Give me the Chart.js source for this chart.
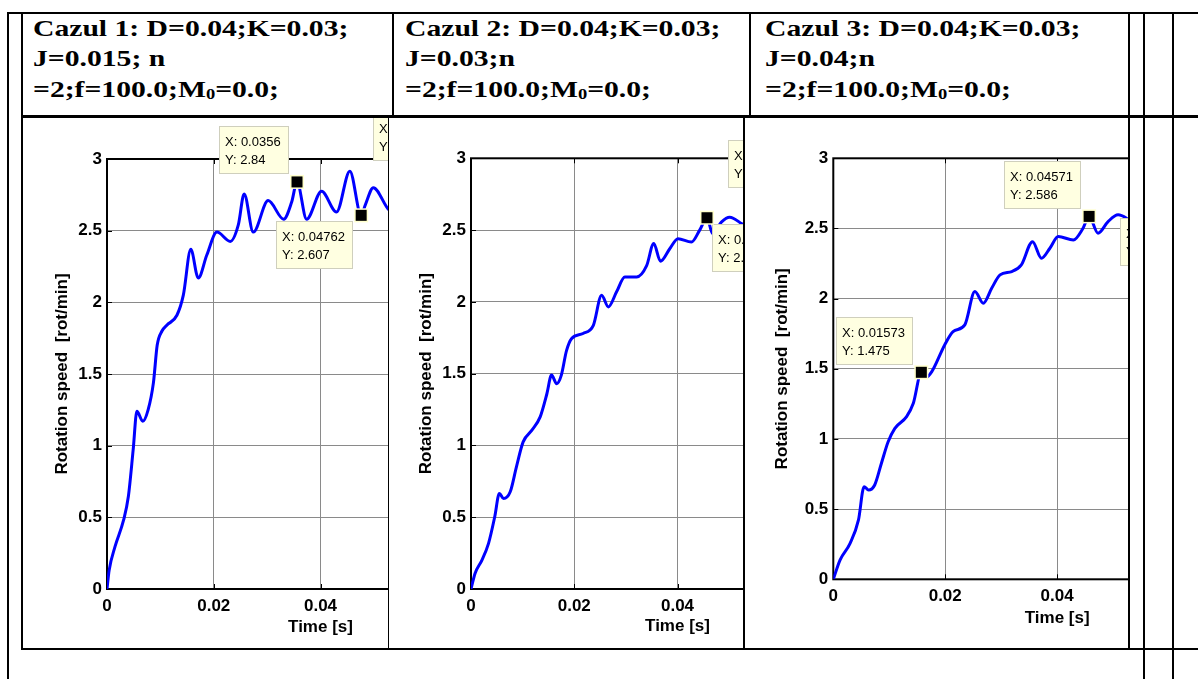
<!DOCTYPE html>
<html lang="ro">
<head>
<meta charset="UTF-8">
<title>Rotation speed - Cazul 1, 2, 3</title>
<script src="https://cdn.jsdelivr.net/npm/chart.js@4.4.0/dist/chart.umd.min.js"></script>
<style>
    html, body { margin: 0; padding: 0; background: #fff; }
    body { width: 1198px; height: 679px; position: relative; overflow: hidden; }
    .rule { position: absolute; background: #000; }
    .head {
        position: absolute; top: 12.6px; color: #000; white-space: nowrap;
        font: bold 24px/30.67px "Liberation Serif", "Times New Roman", serif;
        transform: scaleX(1.235); transform-origin: 0 0;
    }
    .head sub { font-size: 15px; line-height: 0; vertical-align: -2px; }
    .cell { position: absolute; top: 118px; height: 530px; overflow: hidden; }
    .cell canvas { position: absolute; left: 0; top: 0; }
</style>
</head>
<body>

<div class="head" style="left:33px">Cazul 1: D=0.04;K=0.03;<br>J=0.015; n<br>=2;f=100.0;M<sub>0</sub>=0.0;</div>
<div class="head" style="left:405px">Cazul 2: D=0.04;K=0.03;<br>J=0.03;n<br>=2;f=100.0;M<sub>0</sub>=0.0;</div>
<div class="head" style="left:765px">Cazul 3: D=0.04;K=0.03;<br>J=0.04;n<br>=2;f=100.0;M<sub>0</sub>=0.0;</div>

<div class="cell" style="left:23px; width:365px;"><canvas id="case1" width="511" height="530"></canvas></div>
<div class="cell" style="left:389px; width:354px;"><canvas id="case2" width="495" height="530"></canvas></div>
<div class="cell" style="left:745px; width:383px;"><canvas id="case3" width="536" height="530"></canvas></div>

<!-- table rules -->
<div class="rule" style="left:7px; top:12px; width:1191px; height:2px;"></div>
<div class="rule" style="left:21px; top:115px; width:1177px; height:3px;"></div>
<div class="rule" style="left:21px; top:648px; width:1177px; height:2px;"></div>
<div class="rule" style="left:7px; top:12px; width:2px; height:667px;"></div>
<div class="rule" style="left:21px; top:12px; width:2px; height:638px;"></div>
<div class="rule" style="left:392px; top:12px; width:2px; height:104px;"></div>
<div class="rule" style="left:388px; top:118px; width:1px; height:530px;"></div>
<div class="rule" style="left:749px; top:12px; width:2px; height:104px;"></div>
<div class="rule" style="left:743px; top:118px; width:2px; height:530px;"></div>
<div class="rule" style="left:1128px; top:12px; width:2px; height:638px;"></div>
<div class="rule" style="left:1143px; top:12px; width:2px; height:667px;"></div>
<div class="rule" style="left:1172px; top:12px; width:2px; height:667px;"></div>

<script>
    const timeTicks = [0, 0.02, 0.04, 0.06, 0.08];
    const speedTicks = [0, 0.5, 1, 1.5, 2, 2.5, 3];

    // Cazul 1 (J=0.015)
    const case1Time = [0, 0.0004, 0.0015, 0.0031, 0.004, 0.0049, 0.0056, 0.0067, 0.0077, 0.0087, 0.0094,
        0.0103, 0.0112, 0.0131, 0.0143, 0.0157, 0.0171, 0.0187, 0.0206, 0.0231, 0.0246, 0.0257, 0.0274,
        0.0302, 0.0331, 0.0346, 0.0356, 0.0374, 0.0402, 0.043, 0.0455, 0.04762, 0.0484, 0.0499, 0.0527, 0.054];
    const case1Speed = [0, 0.13, 0.295, 0.48, 0.645, 0.97, 1.24, 1.17, 1.25, 1.44, 1.70,
        1.80, 1.84, 1.91, 2.05, 2.37, 2.17, 2.33, 2.49, 2.425, 2.54, 2.756, 2.49,
        2.71, 2.58, 2.70, 2.84, 2.58, 2.775, 2.63, 2.915, 2.607, 2.68, 2.80, 2.65, 2.62];
    const case1TipX = [0.0356, 0.04762, 0.06574];
    const case1TipY = [2.84, 2.607, 2.932];
    const case1TipSide = ['nw', 'sw', 'nw'];

    // Cazul 2 (J=0.03)
    const case2Time = [0, 0.0008, 0.0021, 0.0034, 0.0046, 0.0055, 0.0063, 0.0076, 0.0088, 0.0101, 0.0118,
        0.0134, 0.0147, 0.0156, 0.0166, 0.0175, 0.0185, 0.0195, 0.0217, 0.0237, 0.0253, 0.0266, 0.0282,
        0.0298, 0.0321, 0.034, 0.0354, 0.0367, 0.0385, 0.0401, 0.0427, 0.0443, 0.04571, 0.0468, 0.0485,
        0.0501, 0.0524, 0.054];
    const case2Speed = [0, 0.11, 0.20, 0.318, 0.503, 0.666, 0.63, 0.677, 0.851, 1.025, 1.106,
        1.199, 1.36, 1.49, 1.43, 1.49, 1.66, 1.745, 1.78, 1.837, 2.046, 1.965, 2.07,
        2.173, 2.173, 2.25, 2.406, 2.283, 2.37, 2.44, 2.417, 2.50, 2.586, 2.475, 2.556,
        2.59, 2.545, 2.5];
    const case2TipX = [0.04571, 0.06627];
    const case2TipY = [2.586, 2.74];
    const case2TipSide = ['se', 'nw'];

    // Cazul 3 (J=0.04)
    const case3Time = [0, 0.0012, 0.003, 0.0045, 0.0055, 0.0063, 0.0074, 0.0086, 0.0098, 0.011, 0.0131,
        0.0143, 0.01573, 0.0166, 0.0176, 0.0199, 0.0214, 0.0235, 0.0253, 0.0268, 0.0283, 0.0298, 0.0319,
        0.0336, 0.0356, 0.0372, 0.0387, 0.0402, 0.0429, 0.0446, 0.04571, 0.0473, 0.0491, 0.0509, 0.0524, 0.054];
    const case3Speed = [0, 0.137, 0.256, 0.423, 0.66, 0.636, 0.672, 0.827, 0.98, 1.076, 1.159,
        1.254, 1.475, 1.44, 1.48, 1.67, 1.765, 1.813, 2.05, 1.967, 2.074, 2.169, 2.193,
        2.24, 2.406, 2.288, 2.359, 2.442, 2.418, 2.50, 2.586, 2.466, 2.549, 2.597, 2.573, 2.52];
    const case3TipX = [0.04571, 0.01573, 0.06649];
    const case3TipY = [2.586, 1.475, 2.618];
    const case3TipSide = ['nw', 'nw', 'sw'];

    const sansFont = '"Liberation Sans", Arial, Helvetica, sans-serif';
    Chart.defaults.font.family = sansFont;
    Chart.defaults.color = '#000';

    function fmt(v) {
        return String(Number(v.toPrecision(4)));
    }

    // MATLAB-like axes box with inward tick marks
    const frameBox = {
        id: 'frameBox',
        beforeDatasetsDraw(chart) {
            const {ctx, chartArea: a, scales} = chart;
            ctx.save();
            ctx.strokeStyle = '#000';
            ctx.lineWidth = 1;
            ctx.beginPath();
            scales.x.ticks.forEach(t => {
                const px = Math.round(scales.x.getPixelForValue(t.value)) + 0.5;
                ctx.moveTo(px, a.bottom);
                ctx.lineTo(px, a.bottom - 5);
                ctx.moveTo(px, a.top);
                ctx.lineTo(px, a.top + 5);
            });
            scales.y.ticks.forEach(t => {
                const py = Math.round(scales.y.getPixelForValue(t.value)) + 0.5;
                ctx.moveTo(a.left, py);
                ctx.lineTo(a.left + 5, py);
            });
            ctx.stroke();
            ctx.lineWidth = 2;
            ctx.strokeRect(a.left, a.top, a.right - a.left, a.bottom - a.top);
            ctx.restore();
        }
    };

    // data tips: yellow label boxes with black square markers
    const dataTips = {
        id: 'dataTips',
        afterDatasetsDraw(chart, args, opts) {
            const {ctx, scales} = chart;
            ctx.save();
            ctx.font = '13px ' + sansFont;
            ctx.textBaseline = 'alphabetic';
            opts.x.forEach((xv, i) => {
                const yv = opts.y[i];
                const side = opts.side[i];
                const px = scales.x.getPixelForValue(xv);
                const py = scales.y.getPixelForValue(yv);
                const lines = ['X: ' + fmt(xv), 'Y: ' + fmt(yv)];
                const w = Math.ceil(Math.max(...lines.map(s => ctx.measureText(s).width))) + 14;
                const h = 48;
                const bx = Math.round(side.includes('w') ? px - 8 - w : px + 5);
                const by = Math.round(side.includes('n') ? py - 7.5 - h : py + 6);
                ctx.fillStyle = '#ffffe1';
                ctx.fillRect(bx, by, w, h);
                ctx.strokeStyle = '#cfcfbd';
                ctx.lineWidth = 1;
                ctx.strokeRect(bx + 0.5, by + 0.5, w - 1, h - 1);
                ctx.fillStyle = '#000';
                ctx.fillText(lines[0], bx + 6, by + 20);
                ctx.fillText(lines[1], bx + 6, by + 37.5);
                ctx.fillStyle = '#ffffcc';
                ctx.fillRect(px - 7, py - 7, 14, 14);
                ctx.fillStyle = '#000';
                ctx.fillRect(px - 5.5, py - 5.5, 11, 11);
            });
            ctx.restore();
        }
    };

    function makeChart(id, times, speeds, tips, g) {
        return new Chart(document.getElementById(id), {
            type: 'line',
            data: {
                datasets: [{
                    data: times.map((t, i) => ({x: t, y: speeds[i]})),
                    borderColor: '#0000ff',
                    borderWidth: 3,
                    pointRadius: 0,
                    cubicInterpolationMode: 'monotone',
                    fill: false,
                }]
            },
            options: {
                responsive: false,
                animation: false,
                devicePixelRatio: 1,
                events: [],
                layout: {padding: {top: g.top, left: 0, right: 0, bottom: 0}},
                scales: {
                    x: {
                        type: 'linear',
                        min: 0,
                        max: 0.08,
                        afterBuildTicks: s => { s.ticks = timeTicks.map(v => ({value: v})); },
                        afterFit: s => { s.height = g.xAxisH; s.paddingLeft = 0; s.paddingRight = 0; },
                        grid: {color: '#8a8a8a', drawTicks: false},
                        border: {display: false},
                        ticks: {
                            padding: 7, autoSkip: false, maxRotation: 0,
                            font: {size: 17, weight: 'bold'},
                            callback: v => String(v),
                        },
                        title: {
                            display: true,
                            text: 'Time [s]',
                            font: {size: 17, weight: 'bold'},
                            padding: {top: 0, bottom: g.xTitlePad},
                        },
                    },
                    y: {
                        min: 0,
                        max: 3,
                        afterBuildTicks: s => { s.ticks = speedTicks.map(v => ({value: v})); },
                        afterFit: s => { s.width = g.yAxisW; s.paddingTop = 0; s.paddingBottom = 0; },
                        grid: {color: '#8a8a8a', drawTicks: false},
                        border: {display: false},
                        ticks: {
                            padding: 5,
                            font: {size: 17, weight: 'bold'},
                            callback: v => String(v),
                        },
                        title: {
                            display: true,
                            text: 'Rotation speed  [rot/min]',
                            font: {size: 17, weight: 'bold'},
                            padding: {top: g.yTitlePad, bottom: 0},
                        },
                    },
                },
                plugins: {
                    legend: {display: false},
                    tooltip: {enabled: false},
                    dataTips: tips,
                },
            },
            plugins: [frameBox, dataTips],
        });
    }

    makeChart('case1', case1Time, case1Speed,
        {x: case1TipX, y: case1TipY, side: case1TipSide},
        {top: 41, xAxisH: 59, yAxisW: 84, yTitlePad: 28.8, xTitlePad: 10.8});
    makeChart('case2', case2Time, case2Speed,
        {x: case2TipX, y: case2TipY, side: case2TipSide},
        {top: 40.3, xAxisH: 59, yAxisW: 82, yTitlePad: 26.8, xTitlePad: 11.8});
    makeChart('case3', case3Time, case3Speed,
        {x: case3TipX, y: case3TipY, side: case3TipSide},
        {top: 40.3, xAxisH: 68.7, yAxisW: 88.3, yTitlePad: 27.1, xTitlePad: 19.5});
</script>
</body>
</html>
